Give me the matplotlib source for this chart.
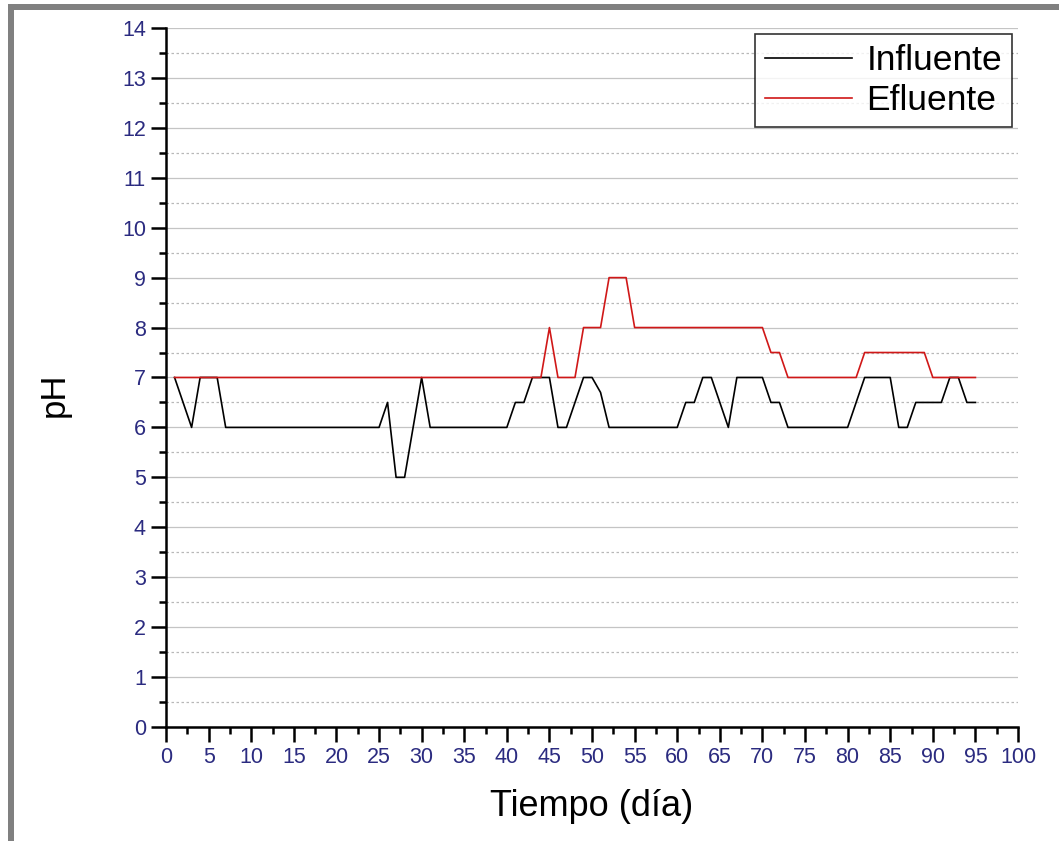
import matplotlib
matplotlib.use("Agg")
import matplotlib.pyplot as plt
from matplotlib.patches import Rectangle
from matplotlib.ticker import MultipleLocator

plt.rcParams['font.family'] = ['Liberation Sans', 'DejaVu Sans']

# pH diario del influente y del efluente
dias = list(range(1, 96))
influente = [7, 6.5, 6, 7, 7, 7, 6, 6, 6, 6,
             6, 6, 6, 6, 6, 6, 6, 6, 6, 6,
             6, 6, 6, 6, 6, 6.5, 5, 5, 6, 7,
             6, 6, 6, 6, 6, 6, 6, 6, 6, 6,
             6.5, 6.5, 7, 7, 7, 6, 6, 6.5, 7, 7,
             6.7, 6, 6, 6, 6, 6, 6, 6, 6, 6,
             6.5, 6.5, 7, 7, 6.5, 6, 7, 7, 7, 7,
             6.5, 6.5, 6, 6, 6, 6, 6, 6, 6, 6,
             6.5, 7, 7, 7, 7, 6, 6, 6.5, 6.5, 6.5,
             6.5, 7, 7, 6.5, 6.5]
efluente = [7, 7, 7, 7, 7, 7, 7, 7, 7, 7,
            7, 7, 7, 7, 7, 7, 7, 7, 7, 7,
            7, 7, 7, 7, 7, 7, 7, 7, 7, 7,
            7, 7, 7, 7, 7, 7, 7, 7, 7, 7,
            7, 7, 7, 7, 8, 7, 7, 7, 8, 8,
            8, 9, 9, 9, 8, 8, 8, 8, 8, 8,
            8, 8, 8, 8, 8, 8, 8, 8, 8, 8,
            7.5, 7.5, 7, 7, 7, 7, 7, 7, 7, 7,
            7, 7.5, 7.5, 7.5, 7.5, 7.5, 7.5, 7.5, 7.5, 7,
            7, 7, 7, 7, 7]

fig = plt.figure(figsize=(10.59, 8.41), dpi=100)
ax = fig.add_axes([0.1568, 0.1356, 0.8045, 0.8311])

ax.plot(dias, influente, color='black', lw=1.2, label='Influente', zorder=3)
ax.plot(dias, efluente, color='#d01818', lw=1.2, label='Efluente', zorder=3)

ax.set_xlim(0, 100)
ax.set_ylim(0, 14)
ax.xaxis.set_major_locator(MultipleLocator(5))
ax.xaxis.set_minor_locator(MultipleLocator(2.5))
ax.yaxis.set_major_locator(MultipleLocator(1))
ax.yaxis.set_minor_locator(MultipleLocator(0.5))

# rejilla horizontal: continua en enteros, punteada en medios
ax.grid(True, which='major', axis='y', color='#c4c4c4', lw=0.9, ls='-', zorder=0)
ax.grid(True, which='minor', axis='y', color='#b8b8b8', lw=0.9, ls=(0, (2, 2)), zorder=0)

for s in ['top', 'right']:
    ax.spines[s].set_visible(False)
for s in ['left', 'bottom']:
    ax.spines[s].set_linewidth(1.8)

tick_color = '#2b2b80'
ax.tick_params(which='major', direction='out', length=10.5, width=1.8,
               labelsize=15.5, labelcolor=tick_color, pad=4)
ax.tick_params(which='minor', direction='out', length=5, width=1.8)

ax.set_xlabel('Tiempo (día)', fontsize=26)
ax.set_ylabel('pH', fontsize=25)
ax.xaxis.set_label_coords(0.5, -0.089)
ax.yaxis.set_label_coords(-0.112, 0.475)

leg = ax.legend(loc='upper right', bbox_to_anchor=(0.993, 0.991), borderaxespad=0,
                fontsize=25.5, frameon=True, fancybox=False, handlelength=2.45,
                handletextpad=0.42, labelspacing=0.2, borderpad=0.28)
leg.get_frame().set_edgecolor('black')
leg.get_frame().set_linewidth(1.2)
for h in leg.get_lines():
    h.set_linewidth(1.2)

# marco gris de la ventana
fig.add_artist(Rectangle((8 / 1059, 0), 6 / 1059, 1 - 4 / 841,
                         transform=fig.transFigure, color='#808080', lw=0))
fig.add_artist(Rectangle((8 / 1059, 1 - 10 / 841), 1, 6 / 841,
                         transform=fig.transFigure, color='#808080', lw=0))

fig.savefig('out.png', dpi=100)
